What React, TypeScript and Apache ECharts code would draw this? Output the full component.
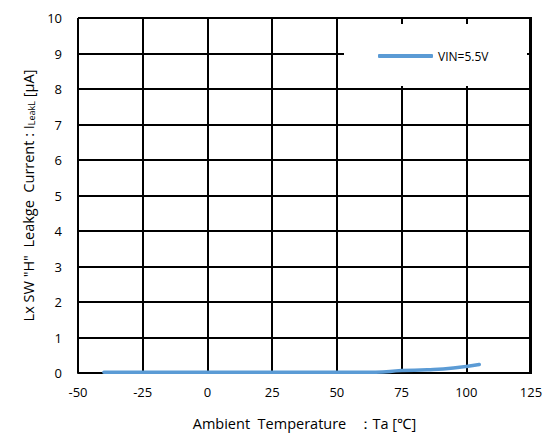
import React, { useEffect, useRef } from "react";
import * as echarts from "echarts";

const temps = [-40, -25, 0, 25, 50, 65, 75, 85, 95, 105];
const leak55 = [0.02, 0.02, 0.02, 0.02, 0.02, 0.02, 0.07, 0.09, 0.14, 0.24];
const seriesName = "VIN=5.5V";
const xTicks = { min: -50, max: 125, interval: 25 };
const yTicks = { min: 0, max: 10, interval: 1 };

const FONT = "'Open Sans', 'Noto Sans', sans-serif";

export default function App() {
  const ref = useRef<HTMLDivElement>(null);
  useEffect(() => {
    if (!ref.current) return;
    const chart = echarts.init(ref.current, undefined, { renderer: "svg" });
    chart.setOption({
      animation: false,
      textStyle: { fontFamily: FONT },
      grid: { left: 78, right: 22, top: 18, bottom: 66, containLabel: false },
      xAxis: {
        type: "value",
        min: xTicks.min,
        max: xTicks.max,
        interval: xTicks.interval,
        axisLine: { show: true, onZero: false, lineStyle: { color: "#000", width: 2 } },
        axisTick: { show: false },
        axisLabel: { color: "#000", fontSize: 13, margin: 12, fontFamily: FONT },
        splitLine: { show: true, lineStyle: { color: "#000", width: 2 } },
        name: "Ambient  Temperature   ：Ta [℃]",
        nameLocation: "middle",
        nameGap: 43,
        nameTextStyle: { color: "#000", fontSize: 14.5, fontFamily: FONT },
      },
      yAxis: {
        type: "value",
        min: yTicks.min,
        max: yTicks.max,
        interval: yTicks.interval,
        axisLine: { show: true, lineStyle: { color: "#000", width: 2 } },
        axisTick: { show: false },
        axisLabel: { color: "#000", fontSize: 13, margin: 16, fontFamily: FONT },
        splitLine: { show: true, lineStyle: { color: "#000", width: 2 } },
        name: "{a|Lx SW \"H\"  Leakge  Current : I}{s|LeakL}{a| [μA]}",
        nameLocation: "middle",
        nameGap: 41,
        nameRotate: 90,
        nameTextStyle: {
          color: "#000",
          fontFamily: FONT,
          rich: {
            a: { fontSize: 14.5, color: "#000", fontFamily: FONT },
            s: { fontSize: 9, color: "#000", fontFamily: FONT, verticalAlign: "bottom", padding: [7, 0, 0, 0] },
          },
        },
      },
      graphic: [
        {
          type: "rect",
          z: 50,
          shape: { x: 344, y: 24, width: 183, height: 62 },
          style: { fill: "#fff" },
        },
        {
          type: "rect",
          z: 49,
          shape: { x: 529, y: 18, width: 3, height: 356 },
          style: { fill: "#000" },
        },
        {
          type: "rect",
          z: 49,
          shape: { x: 78, y: 17, width: 454, height: 2 },
          style: { fill: "#000" },
        },
      ],
      legend: {
        z: 60,
        left: 373,
        top: 45,
        icon: "roundRect",
        itemWidth: 55,
        itemHeight: 4,
        itemGap: 4,
        textStyle: { color: "#000", fontSize: 12, fontFamily: FONT },
        data: [seriesName],
      },
      series: [
        {
          name: seriesName,
          type: "line",
          smooth: true,
          showSymbol: false,
          symbol: "none",
          lineStyle: { color: "#5B9BD5", width: 3.5, cap: "round" },
          itemStyle: { color: "#5B9BD5" },
          data: temps.map((t, i) => [t, leak55[i]]),
          z: 10,
        },
      ],
    });
    return () => chart.dispose();
  }, []);
  return <div ref={ref} style={{ width: 553, height: 439, position: "absolute", left: 0, top: 0 }} />;
}
